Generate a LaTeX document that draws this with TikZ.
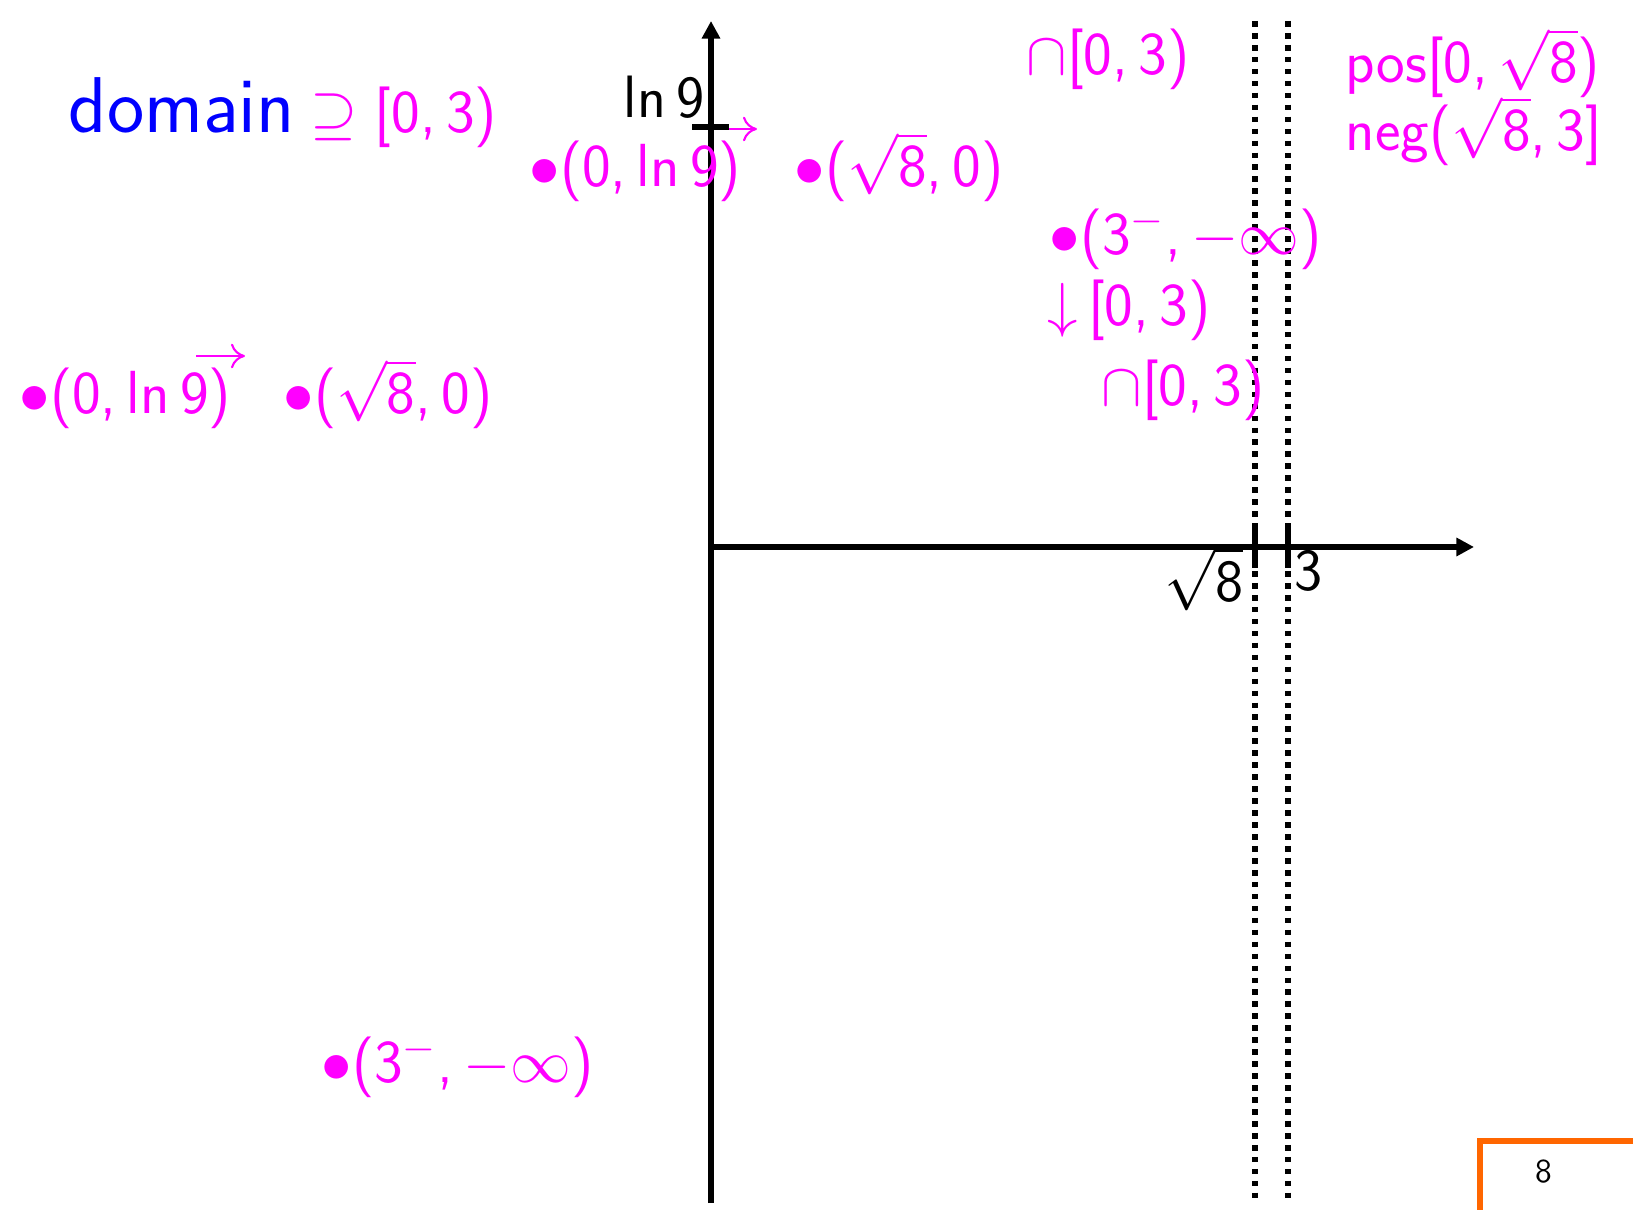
\documentclass[tikz,border=0pt]{standalone}
\usetikzlibrary{arrows.meta}
\definecolor{slidemag}{RGB}{255,0,255}
\definecolor{slideblue}{RGB}{0,0,255}
\definecolor{pageorange}{RGB}{255,102,0}
\newcommand{\sfrt}[1]{$\sqrt{\textsf{#1}}$}

\begin{document}
\begin{tikzpicture}[
    x=0.01cm, y=-0.01cm,
    axis/.style={line width=1.6pt, -{Triangle[length=5pt,width=5pt]}},
    tickline/.style={line width=1.6pt},
    guide/.style={line width=1.6pt, dash pattern=on 1.6pt off 1.8pt},
    note/.style={anchor=base west, inner sep=0pt, text=slidemag, font=\sffamily\fontsize{17.3}{20}\selectfont},
    ticklbl/.style={inner sep=0pt, font=\sffamily\fontsize{17}{20}\selectfont},
    stray/.style={slidemag, line width=0.6pt, -{Computer Modern Rightarrow[length=4pt,width=7pt]}}
]
    \useasboundingbox (0,0) rectangle (1633,1210);
    \clip (0,0) rectangle (1633,1210);

    % axes
    \coordinate (O) at (711,547);
    \coordinate (ytop) at (711,21);
    \coordinate (ybot) at (711,1203);
    \coordinate (xend) at (1474,547);
    \draw[axis] (ybot) -- (ytop);
    \draw[axis] (O) -- (xend);

    % asymptote guides and ticks
    \draw[guide] (1255,21) -- (1255,1203);
    \draw[guide] (1288,21) -- (1288,1203);
    \draw[tickline] (1255,529) -- (1255,568);
    \draw[tickline] (1288,529) -- (1288,568);
    \draw[tickline] (692,127) -- (729,127);
    \node[ticklbl, anchor=base east] (rt8) at (1244,602) {\sfrt{8}};
    \node[ticklbl, anchor=base west] (three) at (1294,591) {3};
    \node[ticklbl, anchor=base east] (lnnine) at (705,118) {ln\,9};

    % notes
    \node[anchor=base west, inner sep=0pt, text=slideblue, font=\sffamily\fontsize{22.5}{27}\selectfont] (dom) at (68,133) {domain};
    \node[note] (domset) at (310,133) {$\supseteq$\;[0,\,3)};
    \node[note] (yint) at (529,187) {$\bullet$(0,\,ln\,9)};
    \node[note] (xint) at (794,187) {$\bullet$(\sfrt{8},\,0)};
    \node[note] (capA) at (1026,75) {$\cap$[0,\,3)};
    \node[note] (pos) at (1345,83) {pos[0,\,\sfrt{8})};
    \node[note] (neg) at (1345,151) {neg(\sfrt{8},\,3]};
    \node[note] (limA) at (1049,255) {$\bullet$(3$^-$,\,$-\infty$)};
    \node[note] (down) at (1047,326) {$\downarrow$\,[0,\,3)};
    \node[note] (capB) at (1101,406) {$\cap$[0,\,3)};
    \node[note] (yintB) at (19,414) {$\bullet$(0,\,ln\,9)};
    \node[note] (xintB) at (283,414) {$\bullet$(\sfrt{8},\,0)};
    \node[note] (limB) at (321,1083) {$\bullet$(3$^-$,\,$-\infty$)};

    \coordinate (sA) at (729,129);
    \coordinate (sA') at (757,129);
    \coordinate (sB) at (196,356);
    \coordinate (sB') at (245,356);
    \draw[stray] (sA) -- (sA');
    \draw[stray] (sB) -- (sB');

    % page number
    \node[draw=pageorange, line width=1.7pt, anchor=north west, minimum width=3cm, minimum height=1.5cm] (pgbox) at (1477,1138) {};
    \node[font=\fontsize{9.5}{11}\selectfont\sffamily, inner sep=0pt] (pgnum) at (1544,1172) {8};
\end{tikzpicture}
\end{document}
